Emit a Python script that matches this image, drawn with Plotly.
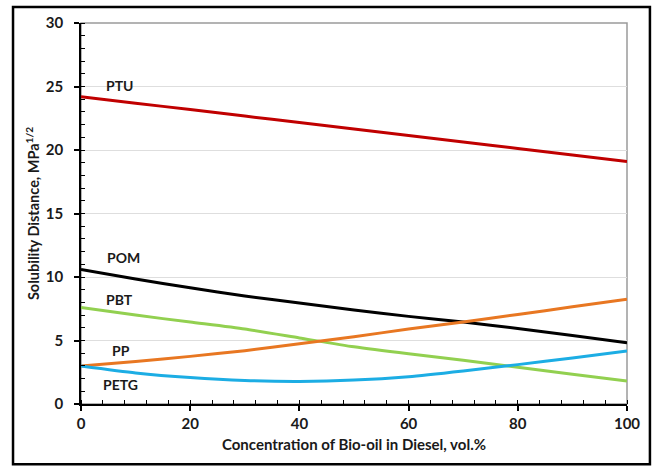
import plotly.graph_objects as go

# Bio-oil concentration in diesel (vol.%)
conc = [0, 10, 20, 30, 40, 50, 60, 70, 80, 90, 100]

# Solubility distance (MPa^1/2) for each polymer
ptu = [24.2, 23.69, 23.18, 22.67, 22.16, 21.65, 21.14, 20.63, 20.12, 19.61, 19.1]
pom = [10.6, 9.85, 9.15, 8.5, 7.95, 7.4, 6.9, 6.45, 5.95, 5.4, 4.83]
pbt = [7.6, 7.0, 6.45, 5.9, 5.2, 4.5, 3.95, 3.45, 2.9, 2.35, 1.81]
pp = [3.0, 3.35, 3.75, 4.2, 4.75, 5.3, 5.9, 6.45, 7.05, 7.65, 8.24]
petg = [3.0, 2.45, 2.08, 1.85, 1.78, 1.88, 2.15, 2.6, 3.1, 3.62, 4.17]

series = [
    ("PTU", ptu, "#C00000", 7.0, 25.1),
    ("POM", pom, "#000000", 7.7, 11.5),
    ("PBT", pbt, "#92D050", 7.0, 8.25),
    ("PP", pp, "#E87722", 7.4, 4.2),
    ("PETG", petg, "#1CADE4", 7.2, 1.5),
]

FONT = "Lato"
TXT = "#1a1a1a"

fig = go.Figure()
for name, ys, color, lx, ly in series:
    fig.add_trace(go.Scatter(
        x=conc, y=ys, mode="lines", name=name,
        line=dict(color=color, width=3, shape="spline", smoothing=0.6),
        showlegend=False,
    ))
    fig.add_annotation(x=lx, y=ly, text=name, showarrow=False,
                       font=dict(family=FONT, size=14, color=TXT, weight="bold"))

# Light plot-area frame (top and right edges)
fig.add_shape(type="rect", xref="paper", yref="paper", x0=0, y0=0, x1=1, y1=1,
              line=dict(color="#9a9a9a", width=1.5), layer="below")
# Outer figure frame
fig.add_shape(type="rect", xref="paper", yref="paper",
              x0=-0.1245, y0=-0.158, x1=1.042, y1=1.042,
              line=dict(color="#000000", width=2.5))

fig.update_xaxes(
    range=[0, 100], dtick=20, tick0=0,
    showline=True, linecolor="#000000", linewidth=1.5,
    ticks="outside", ticklen=5, tickwidth=1.5, tickcolor="#000000",
    minor=dict(dtick=4, ticks="inside", ticklen=4, tickwidth=1, tickcolor="#000000"),
    showgrid=False, zeroline=False,
    tickfont=dict(family=FONT, size=15, color=TXT, weight="bold"),
    title=dict(text="Concentration of Bio-oil in Diesel, vol.%",
               font=dict(family=FONT, size=15, color=TXT, weight="bold"), standoff=9),
)
fig.update_yaxes(
    range=[0, 30], dtick=5, tick0=0,
    showline=True, linecolor="#000000", linewidth=1.5,
    ticks="outside", ticklen=5, tickwidth=1.5, tickcolor="#000000",
    minor=dict(dtick=1, ticks="inside", ticklen=4, tickwidth=1, tickcolor="#000000"),
    showgrid=True, gridcolor="#dedede", gridwidth=1, zeroline=False,
    tickfont=dict(family=FONT, size=15, color=TXT, weight="bold"),
    ticklabelstandoff=8,
    title=dict(text="Solubility Distance, MPa<sup>1/2</sup>",
               font=dict(family=FONT, size=14.5, color=TXT, weight="bold"), standoff=3),
)

fig.update_layout(
    width=652, height=468,
    margin=dict(l=81, r=25, t=23, b=64),
    paper_bgcolor="#ffffff", plot_bgcolor="#ffffff",
)

fig.write_html("out.html")
